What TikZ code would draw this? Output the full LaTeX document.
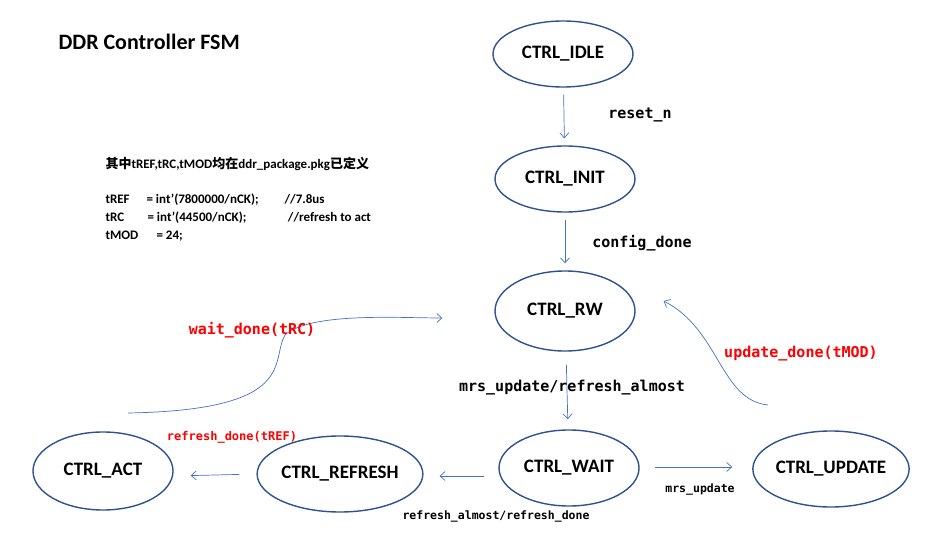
\documentclass[tikz,border=0pt]{standalone}
\usepackage{fontspec}
\setmainfont{Carlito}
\newfontfamily\codefont{DejaVu Sans Mono}
\newfontfamily\cjk{Noto Sans CJK SC}
\usetikzlibrary{shapes.geometric,arrows.meta}
\definecolor{ringblue}{RGB}{47,82,143}
\definecolor{arrowblue}{RGB}{68,114,196}

\tikzset{
  state/.style={ellipse, draw=ringblue, line width=1.4pt, minimum width=140pt, minimum height=70pt, font=\bfseries\fontsize{19}{19}\selectfont, inner sep=0pt},
  trans/.style={draw=arrowblue, line width=0.7pt, -{Straight Barb[length=5pt,width=9pt]}},
  cond/.style={font=\codefont\bfseries\fontsize{15}{15}\selectfont},
  redcond/.style={cond, text=red}
}

\begin{document}
\begin{tikzpicture}[x=1pt,y=-1pt]
  \useasboundingbox (0,0) rectangle (940,548);
  % title and notes
  \node[anchor=west, font=\bfseries\fontsize{22}{22}\selectfont] (title) at (55,42) {DDR Controller FSM};
  \node[anchor=west, font=\bfseries\fontsize{13}{13}\selectfont] (note) at (102,164) {{\cjk 其中}tREF,tRC,tMOD{\cjk 均在}ddr\_package.pkg{\cjk 已定义}};
  \node[anchor=west, font=\bfseries\fontsize{13}{18}\selectfont, align=left] (defs) at (102,218)
    {tREF\hspace{1.3em}= int'(7800000/nCK);\hspace{2em}//7.8us\\
     tRC\hspace{1.8em}= int'(44500/nCK);\hspace{3.2em}//refresh to act\\
     tMOD\hspace{1.4em}= 24;};

  % states
  \node[state, minimum height=66pt] (idle) at (563,54) {CTRL\_IDLE};
  \node[state, minimum height=66pt] (init) at (565,179) {CTRL\_INIT};
  \node[state, minimum height=80pt] (rw) at (565,311) {CTRL\_RW};
  \node[state, minimum height=76pt] (wait) at (569,468) {CTRL\_WAIT};
  \node[state, minimum height=76pt] (update) at (831,469) {CTRL\_UPDATE};
  \node[state, minimum width=156pt, minimum height=76pt] (refresh) at (340,474) {CTRL\_REFRESH};
  \node[state, minimum height=78pt] (act) at (103,471) {CTRL\_ACT};

  % transitions
  \draw[trans, shorten <=7pt, shorten >=7pt] (idle) -- (init);
  \draw[trans, shorten <=7pt, shorten >=7pt] (init) -- (rw);
  \draw[trans, shorten <=13pt, shorten >=10pt] (rw) -- (wait);
  \draw[trans, shorten <=14pt, shorten >=16pt] ([yshift=-8pt]wait.west) -- ([yshift=-2pt]refresh.east);
  \draw[trans, shorten <=17pt, shorten >=17pt] (refresh.west) -- ([yshift=-5pt]act.east);
  \draw[trans, shorten <=15pt, shorten >=20pt] ([yshift=1pt]wait.east) -- ([yshift=2pt]update.west);
  \coordinate (actout) at (128,413);
  \coordinate (updout) at (768,405);
  \draw[trans] (actout) .. controls (300,410) and (270,360) .. (285,335) .. controls (310,312) and (400,318) .. ([xshift=-52pt]rw.west |- 0,318);
  \draw[trans] (updout) .. controls (720,400) and (720,330) .. ([xshift=28pt,yshift=10pt]rw.east);

  % labels
  \node[cond] (l1) at (640,115) {reset\_n};
  \node[cond] (l2) at (642,243) {config\_done};
  \node[cond] (l3) at (572,388) {mrs\_update/refresh\_almost};
  \node[cond, font=\codefont\bfseries\fontsize{11.5}{11.5}\selectfont] (l4) at (496,516) {refresh\_almost/refresh\_done};
  \node[cond, font=\codefont\bfseries\fontsize{11.5}{11.5}\selectfont] (l5) at (700,489) {mrs\_update};
  \node[redcond] (l6) at (252,330) {wait\_done(tRC)};
  \node[redcond] (l7) at (801,354) {update\_done(tMOD)};
  \node[redcond, font=\codefont\bfseries\fontsize{12}{12}\selectfont] (l8) at (232,437) {refresh\_done(tREF)};
\end{tikzpicture}
\end{document}
